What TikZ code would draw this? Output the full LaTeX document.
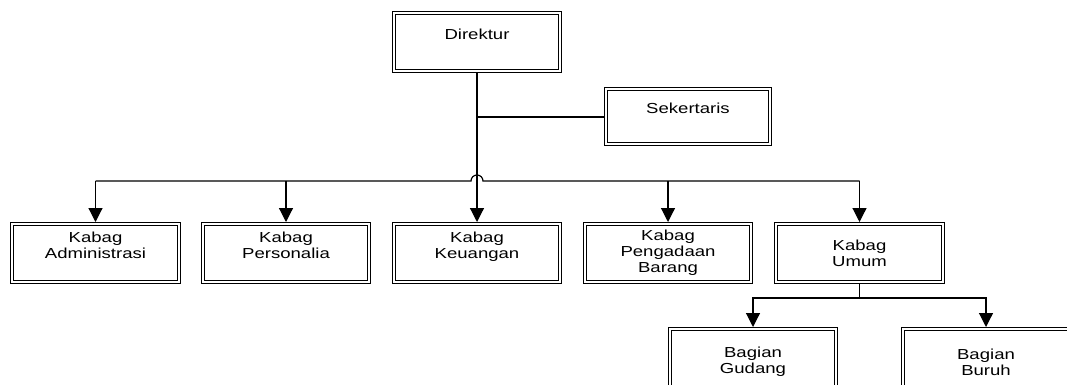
\documentclass[tikz,border=0pt]{standalone}
\usepackage{fontspec}
\setmainfont{Liberation Sans}[FakeStretch=1.28]
\usetikzlibrary{arrows.meta}
\begin{document}
\begin{tikzpicture}[x=1pt,y=-1pt,
  box/.style={draw, line width=0.9pt, double=white, double distance=2.2pt,
    minimum width=166pt, minimum height=58pt, inner sep=0pt, outer sep=2pt,
    align=center, font=\fontsize{14.5}{16}\selectfont},
  link/.style={line width=1.2pt},
  arr/.style={link, -{Triangle[length=14pt,width=14pt]}}]
\useasboundingbox (0,0) rectangle (1067,385);
\clip (0,0) rectangle (1067,385);
% boxes
\node[box] (dir)  at (477,42)    {Direktur\\\mbox{}};
\node[box, minimum width=164pt, minimum height=55pt] (sek) at (688,116.5) {Sekertaris\\\mbox{}};
\node[box, minimum width=167pt] (adm)  at (95.5,253) {Kabag\\Administrasi\\\mbox{}};
\node[box] (per)  at (286,253)   {Kabag\\Personalia\\\mbox{}};
\node[box] (keu)  at (477,253)   {Kabag\\Keuangan\\\mbox{}};
\node[box] (peng) at (668,253)   {Kabag\\Pengadaan\\Barang};
\node[box, minimum width=167pt] (umum) at (859.5,253) {Kabag\\Umum};
\node[box, minimum height=66pt] (gud)  at (753,362) {Bagian\\Gudang};
\node[box, minimum height=66pt] (bur)  at (986,362) {Bagian\\Buruh};
% junction coordinates
\coordinate (sj) at (477,117);
\coordinate (bus) at (477,181);
\coordinate (jl) at (471,181);
\coordinate (jr) at (483,181);
\coordinate (u3) at (859.5,298);
% connectors
\draw[arr] (dir.south) -- (keu.north);
\draw[link] (sj) -- (sek.west |- sj);
\draw[link] (adm.north |- bus) -- (jl) arc (180:360:6) -- (umum.north |- bus);
\draw[arr] (adm.north |- bus) -- (adm.north);
\draw[arr] (per.north |- bus) -- (per.north);
\draw[arr] (peng.north |- bus) -- (peng.north);
\draw[arr] (umum.north |- bus) -- (umum.north);
\draw[link] (umum.south) -- (u3);
\draw[arr] (u3) -| (gud.north);
\draw[arr] (u3) -| (bur.north);
\end{tikzpicture}
\end{document}
